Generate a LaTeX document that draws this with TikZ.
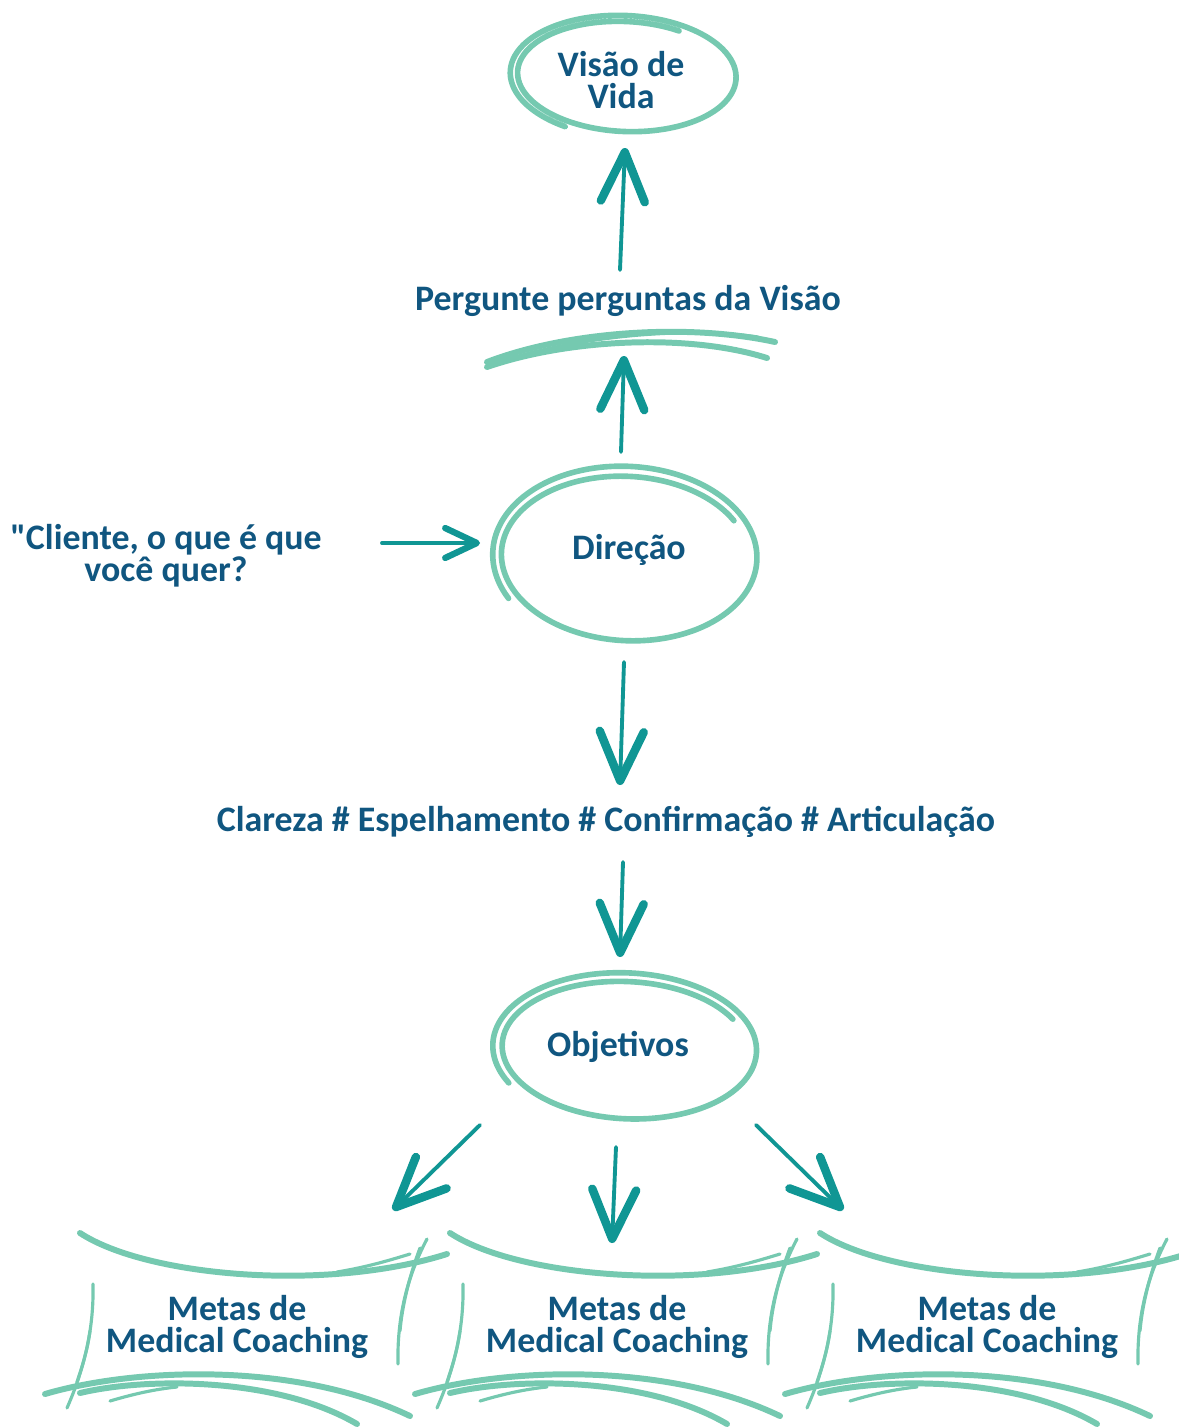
\documentclass[tikz,border=0pt]{standalone}
\usepackage{fontspec}
\setmainfont{Carlito}[Ligatures=TeXOff]
\usetikzlibrary{arrows.meta}

\definecolor{textblue}{RGB}{16,86,128}
\definecolor{arrowteal}{RGB}{16,150,148}
\definecolor{ringgreen}{RGB}{117,201,176}

\tikzset{
  lbl/.style={font=\bfseries\fontsize{10.2pt}{9.1pt}\selectfont, text=textblue, align=center, inner sep=0pt},
  ringline/.style={draw=ringgreen, line width=1.6pt, line cap=round},
  frameline/.style={draw=ringgreen, line width=1.7pt, line cap=round},
  framethin/.style={draw=ringgreen, line width=0.9pt, line cap=round},
  tealarrow/.style={draw=arrowteal, line width=1.1pt, line cap=round,
    -{Straight Barb[length=14pt,width=12.5pt,line width=2.4pt,round]}},
  tealsmall/.style={draw=arrowteal, line width=1.1pt, line cap=round,
    -{Straight Barb[length=9pt,width=8.5pt,line width=1.8pt,round]}},
}

% hand drawn ring: node, dx, dy, rx out, ry out, rx in, ry in, start angle
\newcommand{\sketchring}[8]{%
  \begin{scope}[shift={(#1.center)}, shift={(#2,#3)}, rotate=-2]
    \draw[ringline] plot[domain=#8:#8+540, samples=160, smooth, variable=\t]
      ({(#4+(#6-#4)*(\t-#8)/540)*cos(\t)}, {(#5+(#7-#5)*(\t-#8)/540)*sin(\t)});
  \end{scope}}

% hand drawn frame round a goal box: node, x offset
\newcommand{\metasframe}[2]{%
  \begin{scope}[shift={(#1.center)}, shift={(#2,0)}]
    \draw[frameline] (-157,-94) .. controls (-90,-50) and (90,-35) .. (210,-73);
    \draw[framethin] (100,-55) .. controls (130,-60) and (150,-66) .. (173,-73);
    \draw[framethin] (-144,-43) .. controls (-143,0) and (-152,40) .. (-170,81);
    \draw[framethin] (-147,4) .. controls (-150,25) and (-155,40) .. (-160,55);
    \draw[framethin] (190,-88) .. controls (170,-50) and (160,-10) .. (161,37);
    \draw[framethin] (183,-79) .. controls (172,-50) and (165,-20) .. (163,4);
    \draw[frameline] (-192,67) .. controls (-100,40) and (60,35) .. (173,89);
    \draw[frameline] (-157,66) .. controls (-90,50) and (40,50) .. (120,97);
    \draw[framethin] (-127,74) .. controls (-100,66) and (-80,62) .. (-60,60);
  \end{scope}}

\begin{document}
\begin{tikzpicture}[x=0.01cm, y=-0.01cm]
\useasboundingbox (0,0) rectangle (1179,1427);

% texts
\node[lbl] (visao) at (621,80) {Visão de\\Vida};
\node[lbl] (perg) at (628,301) {Pergunte perguntas da Visão};
\node[lbl] (direcao) at (629,550) {Direção};
\node[lbl] (cliente) at (166,556) {"Cliente, o que é que\\você quer?};
\node[lbl] (clareza) at (606,822) {Clareza \# Espelhamento \# Confirmação \# Articulação};
\node[lbl] (objetivos) at (618,1047) {Objetivos};
\foreach \n/\x in {1/237, 2/617, 3/987}
  \node[lbl] (meta\n) at (\x,1327) {Metas de\\Medical Coaching};

% rings and strokes
\sketchring{visao}{4}{-5}{116}{62}{105}{53}{120}
\sketchring{direcao}{-2}{6}{135}{93}{122}{78}{150}
\sketchring{objetivos}{9}{1}{135}{78}{121}{65}{150}
\begin{scope}[shift={(perg.center)}]
  \draw[frameline] (-141,61) .. controls (-60,30) and (60,22) .. (147,41);
  \draw[frameline] (-141,66) .. controls (-60,38) and (60,32) .. (139,57);
  \draw[framethin] (-120,58) .. controls (-40,34) and (60,26) .. (130,36);
\end{scope}
\metasframe{meta1}{0}
\metasframe{meta2}{-10}
\metasframe{meta3}{-10}

% arrows
\draw[tealarrow] ([shift={(-8,-31)}]perg.center) -- ([shift={(4,68)}]visao.center);
\draw[tealarrow] ([shift={(-8,-98)}]direcao.center) -- ([shift={(-4,55)}]perg.center);
\draw[tealsmall] ([shift={(216,-13)}]cliente.center) -- ([shift={(-149,-7)}]direcao.center);
\draw[tealarrow] ([shift={(-5,112)}]direcao.center) -- ([shift={(14,-37)}]clareza.center);
\draw[tealarrow] ([shift={(17,40)}]clareza.center) -- ([shift={(2,-90)}]objetivos.center);
\draw[tealarrow] ([shift={(-138,78)}]objetivos.center) -- ([shift={(156,-117)}]meta1.center);
\draw[tealarrow] ([shift={(-2,100)}]objetivos.center) -- ([shift={(-5,-84)}]meta2.center);
\draw[tealarrow] ([shift={(138,78)}]objetivos.center) -- ([shift={(-144,-117)}]meta3.center);
\end{tikzpicture}
\end{document}
